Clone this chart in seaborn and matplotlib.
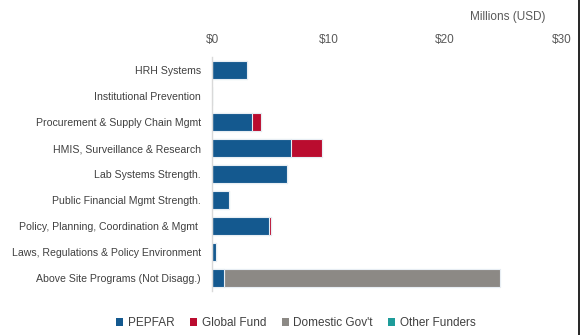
import matplotlib
matplotlib.use("Agg")
import matplotlib.pyplot as plt
from matplotlib.lines import Line2D
from matplotlib.patches import Patch
import numpy as np
import pandas as pd
import seaborn as sns

categories = [
    "HRH Systems",
    "Institutional Prevention",
    "Procurement & Supply Chain Mgmt",
    "HMIS, Surveillance & Research",
    "Lab Systems Strength.",
    "Public Financial Mgmt Strength.",
    "Policy, Planning, Coordination & Mgmt ",
    "Laws, Regulations & Policy Environment",
    "Above Site Programs (Not Disagg.)",
]
pepfar = [3.04, 0.0, 3.45, 6.78, 6.47, 1.49, 4.85, 0.32, 1.0]
global_fund = [0.0, 0.0, 0.72, 2.64, 0.0, 0.0, 0.2, 0.0, 0.0]
domestic_gov = [0.0, 0.0, 0.0, 0.0, 0.0, 0.0, 0.0, 0.0, 23.7]
other_funders = [0.0, 0.0, 0.0, 0.0, 0.0, 0.0, 0.0, 0.0, 0.0]

series_names = ["PEPFAR", "Global Fund", "Domestic Gov't", "Other Funders"]
series_values = [pepfar, global_fund, domestic_gov, other_funders]
series_colors = ["#14598F", "#BA0C2F", "#8C8985", "#1E9C9A"]
x_ticks = [0, 10, 20, 30]

sns.set_theme(style="white")
plt.rcParams["font.family"] = ["Liberation Sans", "DejaVu Sans"]

fig = plt.figure(figsize=(5.84, 3.35), dpi=100)
ax = fig.add_axes([212 / 584, 1 - 291 / 335, (561.5 - 212) / 584, (291 - 57) / 335])

df = pd.DataFrame({"category": categories})
cum = np.zeros(len(categories))
cumulative = []
for vals in series_values:
    cum = cum + np.array(vals)
    cumulative.append(cum.copy())

# stacked bars: draw the running totals from the outermost segment inward
for name, color, total in reversed(list(zip(series_names, series_colors, cumulative))):
    df["value"] = total
    sns.barplot(data=df, x="value", y="category", orient="h", color=color,
                width=0.72, edgecolor="#E8EEF4", linewidth=0.8, saturation=1,
                ax=ax)

ax.set_xlim(0, 30)
ax.set_xticks(x_ticks)
ax.set_xticklabels([f"${t}" for t in x_ticks])
ax.xaxis.tick_top()
ax.tick_params(axis="x", length=0, pad=8, labelsize=8.5, labelcolor="#595959")
ax.tick_params(axis="y", length=0, pad=8, labelsize=7.6, labelcolor="#404040")
ax.set_xlabel("")
ax.set_ylabel("")
for side in ["top", "right", "bottom"]:
    ax.spines[side].set_visible(False)
ax.spines["left"].set_color("#D9D9D9")
ax.spines["left"].set_linewidth(1.0)
ax.grid(False)

fig.text(546 / 584, 1 - 17 / 335, "Millions (USD)", ha="right", va="center",
         fontsize=8.5, color="#595959")

handles = [Patch(facecolor=c, edgecolor="none") for c in series_colors]
fig.legend(handles, series_names, loc="center", bbox_to_anchor=(296 / 584, 1 - 323 / 335),
           ncol=4, frameon=False, fontsize=8.5, handlelength=0.6, handleheight=0.6,
           handletextpad=0.4, columnspacing=1.3, labelcolor="#404040")

fig.add_artist(Line2D([578.5 / 584, 578.5 / 584], [0, 1], color="black", linewidth=1.2))

fig.savefig("out.png", dpi=100)
